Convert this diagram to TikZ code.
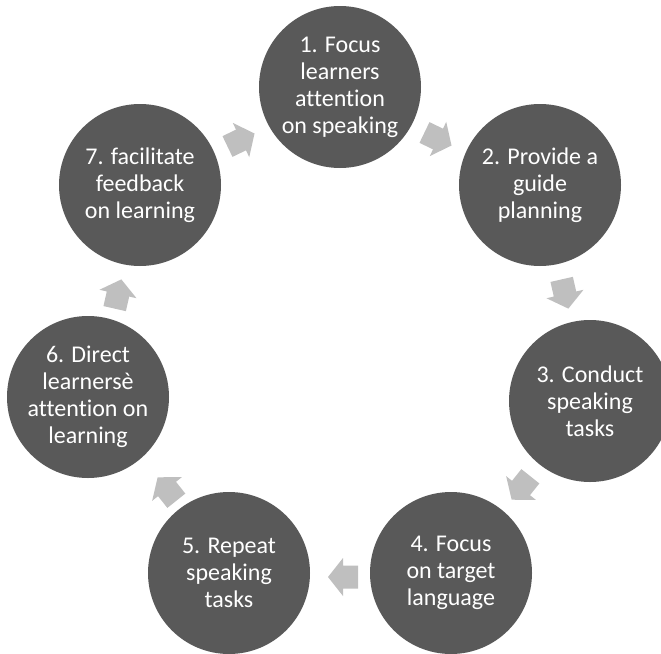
\documentclass[tikz,border=0pt]{standalone}
\usepackage{fontspec}
\setmainfont[Ligatures={NoCommon,NoRare}]{Carlito}
\definecolor{circfill}{RGB}{89,89,89}
\definecolor{arrfill}{RGB}{191,191,191}
\tikzset{
  stage/.style={circle, fill=circfill, draw=none, minimum size=162pt, inner sep=0pt,
    text=white, align=center, font=\fontsize{24}{27}\selectfont},
  cyclearrow/.style={fill=arrfill, draw=none}
}
\newcommand{\cycarrow}[3]{%
  \fill[cyclearrow, shift={(#1,#2)}, rotate=#3]
    (-15,-11.5) -- (0,-11.5) -- (0,-19) -- (15,0) -- (0,19) -- (0,11.5) -- (-15,11.5) -- cycle;}
\begin{document}
\begin{tikzpicture}[x=1pt,y=-1pt]
\useasboundingbox (0,0) rectangle (661,653);
\begin{scope}
\clip (0,0) rectangle (661,653);
% arrows
\cycarrow{438}{139}{-25.71}
\cycarrow{565}{294}{-77.14}
\cycarrow{521}{488}{-128.57}
\cycarrow{343}{577}{180}
\cycarrow{167}{489}{128.57}
\cycarrow{118}{294}{77.14}
\cycarrow{241}{140}{25.71}
% circles
\node[stage] (n1) at (340,87) {1. Focus\\learners\\attention\\on speaking};
\node[stage] (n2) at (540,185) {2. Provide a\\guide\\planning};
\node[stage] (n3) at (590,401) {3. Conduct\\speaking\\tasks};
\node[stage] (n4) at (451,573) {4. Focus\\on target\\language};
\node[stage] (n5) at (229,573) {5. Repeat\\speaking\\tasks};
\node[stage] (n6) at (88,397) {6. Direct\\learnersè\\attention on\\learning};
\node[stage] (n7) at (140,185) {7. facilitate\\feedback\\on learning};
\end{scope}
\end{tikzpicture}
\end{document}
